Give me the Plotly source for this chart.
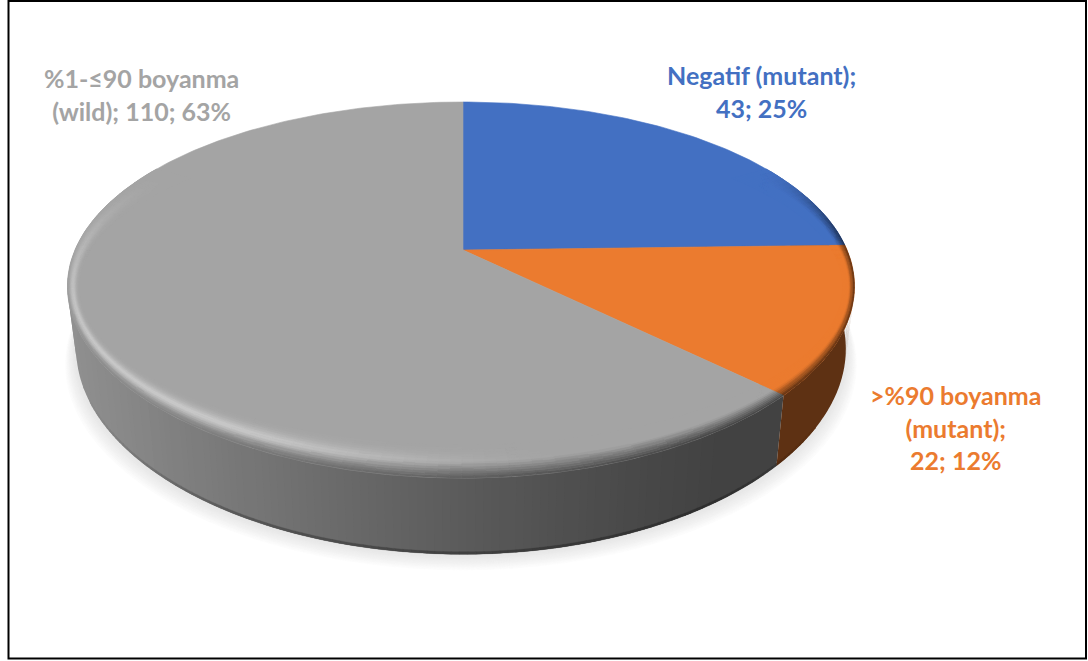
import math
import plotly.graph_objects as go

# Slice data
names = ["Negatif (mutant);", ">%90 boyanma<br>(mutant);", "%1-≤90 boyanma<br>(wild);"]
counts = [43, 22, 110]
percents = [25, 12, 63]
colours = ["#4370C2", "#EB7B2F", "#A4A4A4"]
joiners = ["<br>", "<br>", " "]
label_centres = [(761, 91.5), (955, 427.5), (141, 94)]

# Perspective model of the disc in screen pixels
CX, CY = 463.0, 250.0
PERSP_Y = 0.2128
PERSP_X = 0.194
TILT = -126.3
SX_RIGHT, SX_LEFT = 384.0, 388.0
DEPTH = 60.0
FLOOR_SCALE = 0.978
EDGE_CX, EDGE_CY = 461.0, 289.0
EDGE_RX, EDGE_RY = 393.0, 189.0
RIM_SX, RIM_SY = 0.03, 0.175


def project(theta):
    a = math.radians(theta)
    u, v = math.sin(a), math.cos(a)
    s = SX_RIGHT if u > 0 else SX_LEFT
    return CX + s * u / (1 + PERSP_X * v), (CY + TILT * v) / (1 + PERSP_Y * v)


def floor_point(theta):
    x, y = project(theta)
    d = 1 + PERSP_Y * math.cos(math.radians(theta))
    return CX + (x - CX) * FLOOR_SCALE, y + DEPTH / d


def ray_hit(theta, t):
    # distance along the ray apex -> rim where it meets the shrunken edge ellipse
    x, y = project(theta)
    rx = EDGE_RX * (1 - RIM_SX * t)
    ry = EDGE_RY * (1 - RIM_SY * t)
    ox, oy = (CX - EDGE_CX) / rx, (CY - EDGE_CY) / ry
    dx, dy = (x - CX) / rx, (y - CY) / ry
    a = dx * dx + dy * dy
    b = 2 * (ox * dx + oy * dy)
    c = ox * ox + oy * oy - 1
    return (-b + math.sqrt(b * b - 4 * a * c)) / (2 * a)


def rim_point(theta, t):
    # inner rim points stay on the slice's own ray, so slice boundaries remain straight
    x, y = project(theta)
    k = ray_hit(theta, t) / ray_hit(theta, 0)
    return CX + (x - CX) * k, CY + (y - CY) * k


def smooth(t):
    t = max(0.0, min(1.0, t))
    return t * t * (3 - 2 * t)


def rgb(hex_colour):
    return tuple(int(hex_colour[i:i + 2], 16) for i in (1, 3, 5))


def css(c):
    return "rgb(%d,%d,%d)" % tuple(int(max(0, min(255, round(p)))) for p in c)


def mix(a, b, w):
    return tuple(p + (q - p) * w for p, q in zip(a, b))


def arange(start, stop, step):
    n = max(1, int(math.ceil((stop - start) / step)))
    return [start + (stop - start) * i / n for i in range(n + 1)]


def wall_shade(theta):
    x = project(theta)[0]
    return 0.40 + 0.47 * max(0.0, (740 - x) / 665) ** 1.2


fig = go.Figure()


def add_polys(groups, width=0.6):
    for colour, polys in groups.items():
        xs, ys = [], []
        for poly in polys:
            xs += [p[0] for p in poly] + [poly[0][0], None]
            ys += [p[1] for p in poly] + [poly[0][1], None]
        fig.add_trace(go.Scatter(x=xs, y=ys, mode="lines", fill="toself", fillcolor=colour,
                                 line=dict(color=colour, width=width), hoverinfo="skip",
                                 showlegend=False))


# Soft cast shadow under the disc, widest and palest first
LAYERS = 12
for i in range(LAYERS, 0, -1):
    t = i / LAYERS
    pts = [floor_point(a) for a in arange(0, 360, 3)]
    poly = [(CX + (x - CX) * (1 + 0.03 * t), y + 17 * t) for x, y in pts]
    add_polys({css(mix((230, 230, 230), (255, 255, 255), t ** 1.3)): [poly]})

# Slice angles, clockwise from twelve o'clock
total = sum(counts)
spans = []
start = 0.0
for n in counts:
    spans.append((start, start + 360.0 * n / total))
    start += 360.0 * n / total

# Side wall: overlapping strips painted in angle order so no seams show between them
for (a0, a1), colour in reversed(list(zip(spans, colours))):
    base = rgb(colour)
    lo, hi = max(a0, 60), min(a1, 300)
    if hi <= lo:
        continue
    strips = {}
    for p in reversed(arange(lo, hi, 1.0)[:-1]):
        q = min(p + 2.0, hi)
        poly = [project(p), project(q), floor_point(q), floor_point(p)]
        strips.setdefault(css(tuple(c * wall_shade(p) for c in base)), []).append(poly)
    add_polys(strips, width=0)

# Darker lip along the lower edge of the wall
lips = {}
for (a0, a1), colour in zip(spans, colours):
    base = rgb(colour)
    lo, hi = max(a0, 120), min(a1, 250)
    if hi <= lo:
        continue
    steps = arange(lo, hi, 1.0)
    for p, q in zip(steps, steps[1:]):
        m = (p + q) / 2
        lip = 0.30 * smooth((m - 120) / 30) * (1 - smooth((m - 200) / 50))
        if lip > 0.01:
            f = wall_shade(m)
            bp, bq = floor_point(p), floor_point(q)
            lips.setdefault(css(tuple(c * f * (1 - lip) for c in base)), []).append(
                [(bp[0], bp[1] - 2.5), (bq[0], bq[1] - 2.5), bq, bp])
add_polys(lips, width=0.3)

# Top face
for (a0, a1), colour in zip(spans, colours):
    pts = [(CX, CY)] + [project(a) for a in arange(a0, a1, 1)]
    add_polys({colour: [pts]})

# Bevelled rim along the front edge of the top face
BANDS = 14
groups = {}
for (a0, a1), colour in zip(spans, colours):
    base = rgb(colour)
    lo, hi = max(a0, 60), min(a1, 300)
    if hi <= lo:
        continue
    steps = arange(lo, hi, 1.5)
    for p, q in zip(steps, steps[1:]):
        m = (p + q) / 2
        wall = tuple(c * wall_shade(m) for c in base)
        dark_amt = smooth((m - 60) / 30) * (1 - smooth((m - 235) / 45))
        light_amt = 0.45 * smooth((m - 165) / 50) * (1 - smooth((m - 240) / 60))
        for b in range(BANDS):
            t0, t1 = b / BANDS, (b + 1) / BANDS
            t = (t0 + t1) / 2
            c = mix(base, (255, 255, 255), light_amt * math.exp(-((t - 0.42) / 0.28) ** 2))
            c = mix(c, wall, dark_amt * max(0.0, 1 - t / 0.5))
            poly = [rim_point(p, t0), rim_point(q, t0), rim_point(q, t1), rim_point(p, t1)]
            groups.setdefault(css(c), []).append(poly)
add_polys(groups, width=0.5)

# Data labels
annotations = []
for name, n, pct, colour, join, (lx, ly) in zip(names, counts, percents, colours, joiners, label_centres):
    annotations.append(dict(x=lx, y=ly, xref="x", yref="y", showarrow=False, align="center",
                            text="<b>%s%s%d; %d%%</b>" % (name, join, n, pct),
                            font=dict(family="Lato", size=25, color=colour)))

fig.update_layout(
    width=1088, height=661, autosize=False,
    margin=dict(l=0, r=0, t=0, b=0),
    paper_bgcolor="white", plot_bgcolor="white",
    xaxis=dict(range=[0, 1088], visible=False, fixedrange=True),
    yaxis=dict(range=[661, 0], visible=False, fixedrange=True),
    annotations=annotations,
    shapes=[dict(type="rect", xref="x", yref="y", x0=8.5, y0=1, x1=1086, y1=658.5,
                 line=dict(color="black", width=2), layer="above")],
)

fig.write_html("out.html", config=dict(displayModeBar=False))
